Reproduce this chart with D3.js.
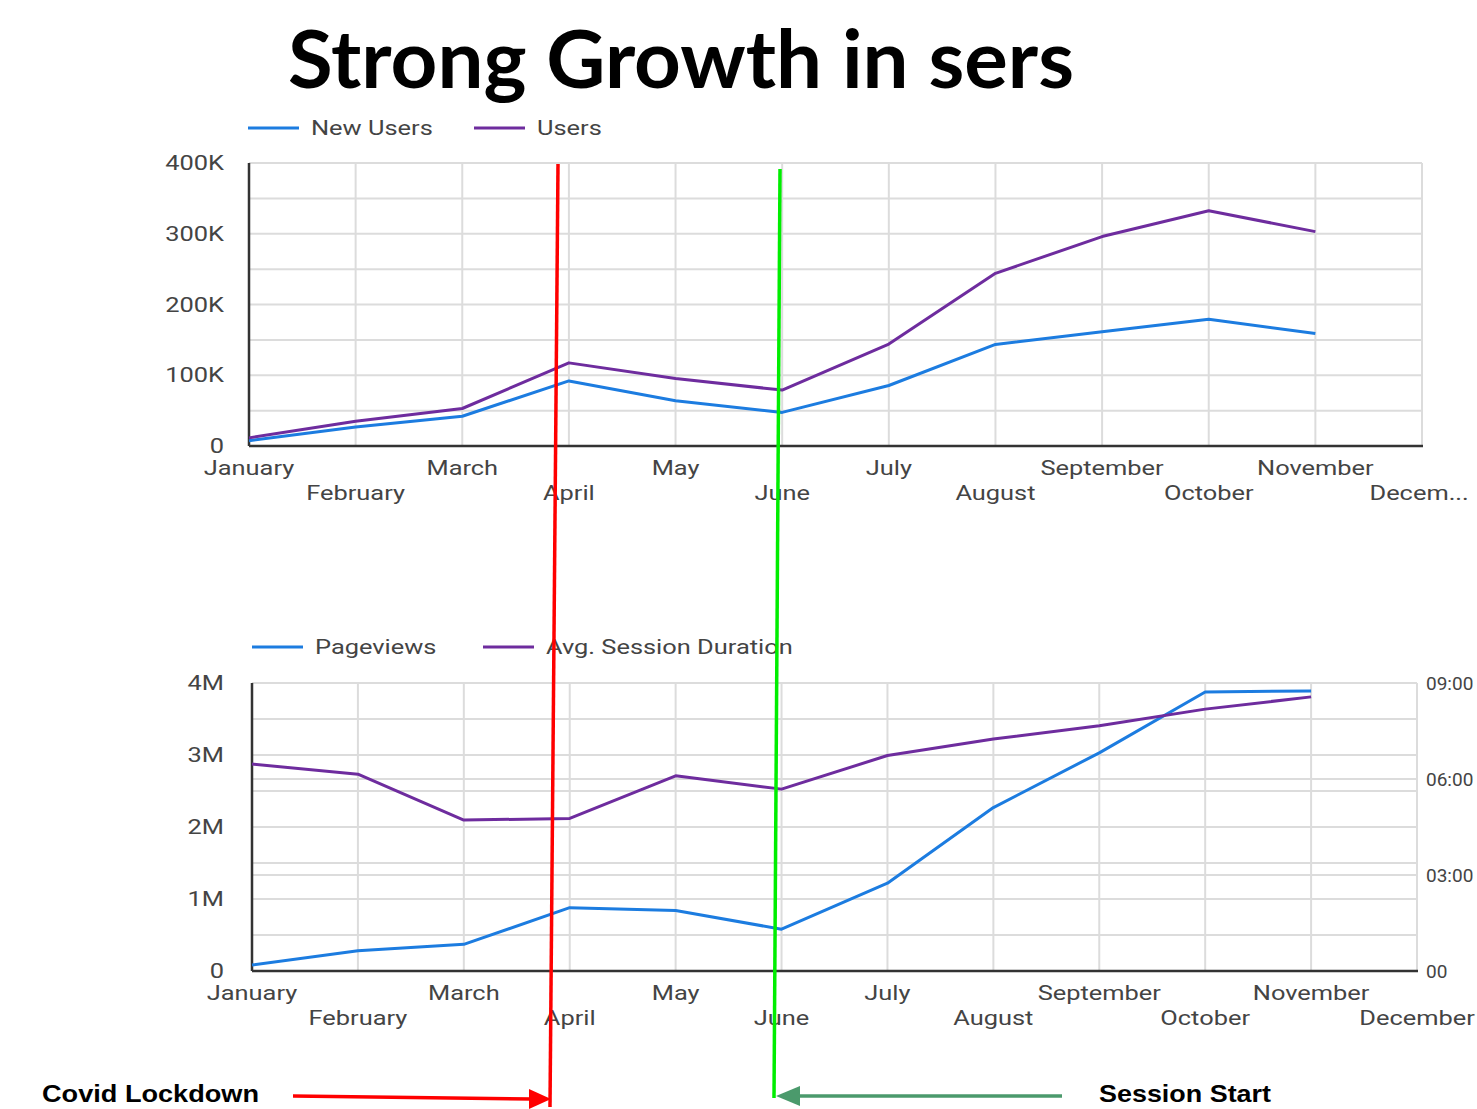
<!DOCTYPE html>
<html><head><meta charset="utf-8">
<script src="https://cdn.jsdelivr.net/npm/d3@7"></script>
<style>
html,body{margin:0;padding:0;background:#fff;overflow:hidden}
svg{display:block}
text{font-family:Roboto,"Noto Sans",sans-serif}
</style></head>
<body>
<svg id="c" width="1477" height="1109"></svg>
<script>
// ---------- data ----------
const months = ["January","February","March","April","May","June","July","August","September","October","November","December"];
const topMonthLabels = ["January","February","March","April","May","June","July","August","September","October","November","Decem..."];
const newUsers = [7.5, 27, 42, 92, 64, 47.5, 85.5, 143.5, 161.5, 179, 159].map(v=>v*1000);
const users    = [11.5, 35, 53, 117.5, 95.5, 79, 144, 244, 296, 332.5, 303].map(v=>v*1000);
const pageviews = [0.083, 0.28, 0.37, 0.88, 0.84, 0.58, 1.22, 2.27, 3.03, 3.875, 3.89].map(v=>v*1e6);
const avgSession = [388, 369, 283, 286, 366, 341, 404, 435, 460, 491, 514]; // seconds
const topTicks = [0,100000,200000,300000,400000];
const topTickLabels = ["0","100K","200K","300K","400K"];
const botTicks = [0,1e6,2e6,3e6,4e6];
const botTickLabels = ["0","1M","2M","3M","4M"];
const rightTicks = [0,180,360,540];
const rightTickLabels = ["00","03:00","06:00","09:00"];

const BLUE = "#1c7ce0", PURPLE = "#6e2c9e", GRID = "#dcdcdc", LBL = "#444";
const SX = 1.27; // horizontal stretch of label text as in the reference
const svg = d3.select("#c");

// ---------- title ----------
svg.append("text").attr("x",288).attr("y",88)
  .attr("textLength",786).attr("lengthAdjust","spacingAndGlyphs")
  .style("font-family","Lato,'Open Sans',sans-serif").style("font-weight","700")
  .style("font-size","80px").attr("fill","#000").text("Strong Growth in sers");

function drawChart(cfg){
  const g = svg.append("g");
  const x = d3.scalePoint().domain(months).range([cfg.x0,cfg.x1]);
  const y = d3.scaleLinear().domain([0,cfg.ymax]).range([cfg.yb,cfg.yt]);
  const gridVals = d3.range(0,cfg.ymax+1,cfg.ymax/8);
  g.selectAll(".hg").data(gridVals).join("line")
    .attr("x1",cfg.x0).attr("x2",cfg.x1).attr("y1",d=>y(d)).attr("y2",d=>y(d))
    .attr("stroke",GRID).attr("stroke-width",2);
  if(cfg.y2){
    g.selectAll(".hg2").data(rightTicks.slice(1,-1)).join("line")
      .attr("x1",cfg.x0).attr("x2",cfg.x1).attr("y1",d=>cfg.y2(d)).attr("y2",d=>cfg.y2(d))
      .attr("stroke",GRID).attr("stroke-width",2);
  }
  g.selectAll(".vg").data(months).join("line")
    .attr("x1",d=>x(d)).attr("x2",d=>x(d)).attr("y1",cfg.yt).attr("y2",cfg.yb)
    .attr("stroke",GRID).attr("stroke-width",2);
  g.append("line").attr("x1",cfg.x0).attr("x2",cfg.x0).attr("y1",cfg.yt).attr("y2",cfg.yb)
    .attr("stroke","#333").attr("stroke-width",2.5);
  g.append("line").attr("x1",cfg.x0).attr("x2",cfg.x1+1).attr("y1",cfg.yb).attr("y2",cfg.yb)
    .attr("stroke","#333").attr("stroke-width",2.5);
  g.selectAll(".yl").data(cfg.ticks).join("text")
    .attr("transform",d=>`translate(224,${y(d)}) scale(${SX},1)`)
    .attr("dy","0.36em").attr("text-anchor","end")
    .attr("fill",LBL).style("font-size","20px").text((d,i)=>cfg.tickLabels[i]);
  if(cfg.y2){
    g.selectAll(".yr").data(rightTicks).join("text")
      .attr("x",1426).attr("y",d=>cfg.y2(d))
      .attr("dy","0.36em").attr("text-anchor","start")
      .attr("fill",LBL).style("font-size","19px").text((d,i)=>rightTickLabels[i]);
  }
  g.selectAll(".xl").data(months).join("text")
    .attr("transform",(d,i)=>{
      let xx = x(d);
      const w = cfg.xLabels[i].length*11*SX/2;
      if (xx + w > 1475) xx = 1475 - w;
      return `translate(${xx},${i%2===0 ? cfg.yb+29 : cfg.yb+54}) scale(${SX},1)`;
    })
    .attr("text-anchor","middle").attr("fill",LBL).style("font-size","20px")
    .text((d,i)=>cfg.xLabels[i]);
  cfg.series.forEach(s=>{
    const yy = s.scale || y;
    g.append("path").datum(s.values)
      .attr("d", d3.line().x((d,i)=>x(months[i])).y(d=>yy(d)))
      .attr("fill","none").attr("stroke",s.color).attr("stroke-width",3)
      .attr("stroke-linejoin","round");
  });
  cfg.legend.forEach(l=>{
    g.append("line").attr("x1",l.x).attr("x2",l.x+51).attr("y1",cfg.ly).attr("y2",cfg.ly)
      .attr("stroke",l.color).attr("stroke-width",3);
    g.append("text").attr("transform",`translate(${l.x+63},${cfg.ly}) scale(${SX},1)`)
      .attr("dy","0.36em")
      .attr("fill",LBL).style("font-size","20px").text(l.name);
  });
}

drawChart({
  x0:249, x1:1422, yt:163, yb:446, ymax:400000,
  ticks:topTicks, tickLabels:topTickLabels, xLabels:topMonthLabels,
  series:[{values:newUsers,color:BLUE},{values:users,color:PURPLE}],
  ly:128, legend:[{x:248,color:BLUE,name:"New Users"},{x:474,color:PURPLE,name:"Users"}]
});

const y2 = d3.scaleLinear().domain([0,540]).range([971,683]);
drawChart({
  x0:252, x1:1417, yt:683, yb:971, ymax:4e6, y2:y2,
  ticks:botTicks, tickLabels:botTickLabels, xLabels:months,
  series:[{values:pageviews,color:BLUE},{values:avgSession,color:PURPLE,scale:y2}],
  ly:647, legend:[{x:252,color:BLUE,name:"Pageviews"},{x:483,color:PURPLE,name:"Avg. Session Duration"}]
});

// ---------- annotations ----------
svg.append("line").attr("x1",558).attr("y1",164).attr("x2",550).attr("y2",1107)
  .attr("stroke","#ff0000").attr("stroke-width",3.5);
svg.append("line").attr("x1",780).attr("y1",169).attr("x2",774).attr("y2",1098)
  .attr("stroke","#00ee00").attr("stroke-width",3.5);

svg.append("line").attr("x1",293).attr("y1",1096).attr("x2",532).attr("y2",1099)
  .attr("stroke","#ff0000").attr("stroke-width",3.5);
svg.append("path").attr("d","M551,1099 L529,1089 L529,1109 Z").attr("fill","#ff0000");
svg.append("line").attr("x1",1062).attr("y1",1096).attr("x2",796).attr("y2",1096)
  .attr("stroke","#4b9a6c").attr("stroke-width",3.5);
svg.append("path").attr("d","M776,1096 L800,1086 L800,1106 Z").attr("fill","#4b9a6c");

svg.append("text").attr("x",42).attr("y",1102).attr("textLength",217).attr("lengthAdjust","spacingAndGlyphs")
  .style("font-family","'Liberation Sans Narrow','Liberation Sans',Arial,sans-serif").style("font-weight","700")
  .style("font-size","24px").attr("fill","#000").text("Covid Lockdown");
svg.append("text").attr("x",1099).attr("y",1102).attr("textLength",172).attr("lengthAdjust","spacingAndGlyphs")
  .style("font-family","'Liberation Sans Narrow','Liberation Sans',Arial,sans-serif").style("font-weight","700")
  .style("font-size","24px").attr("fill","#000").text("Session Start");
</script>
</body></html>
